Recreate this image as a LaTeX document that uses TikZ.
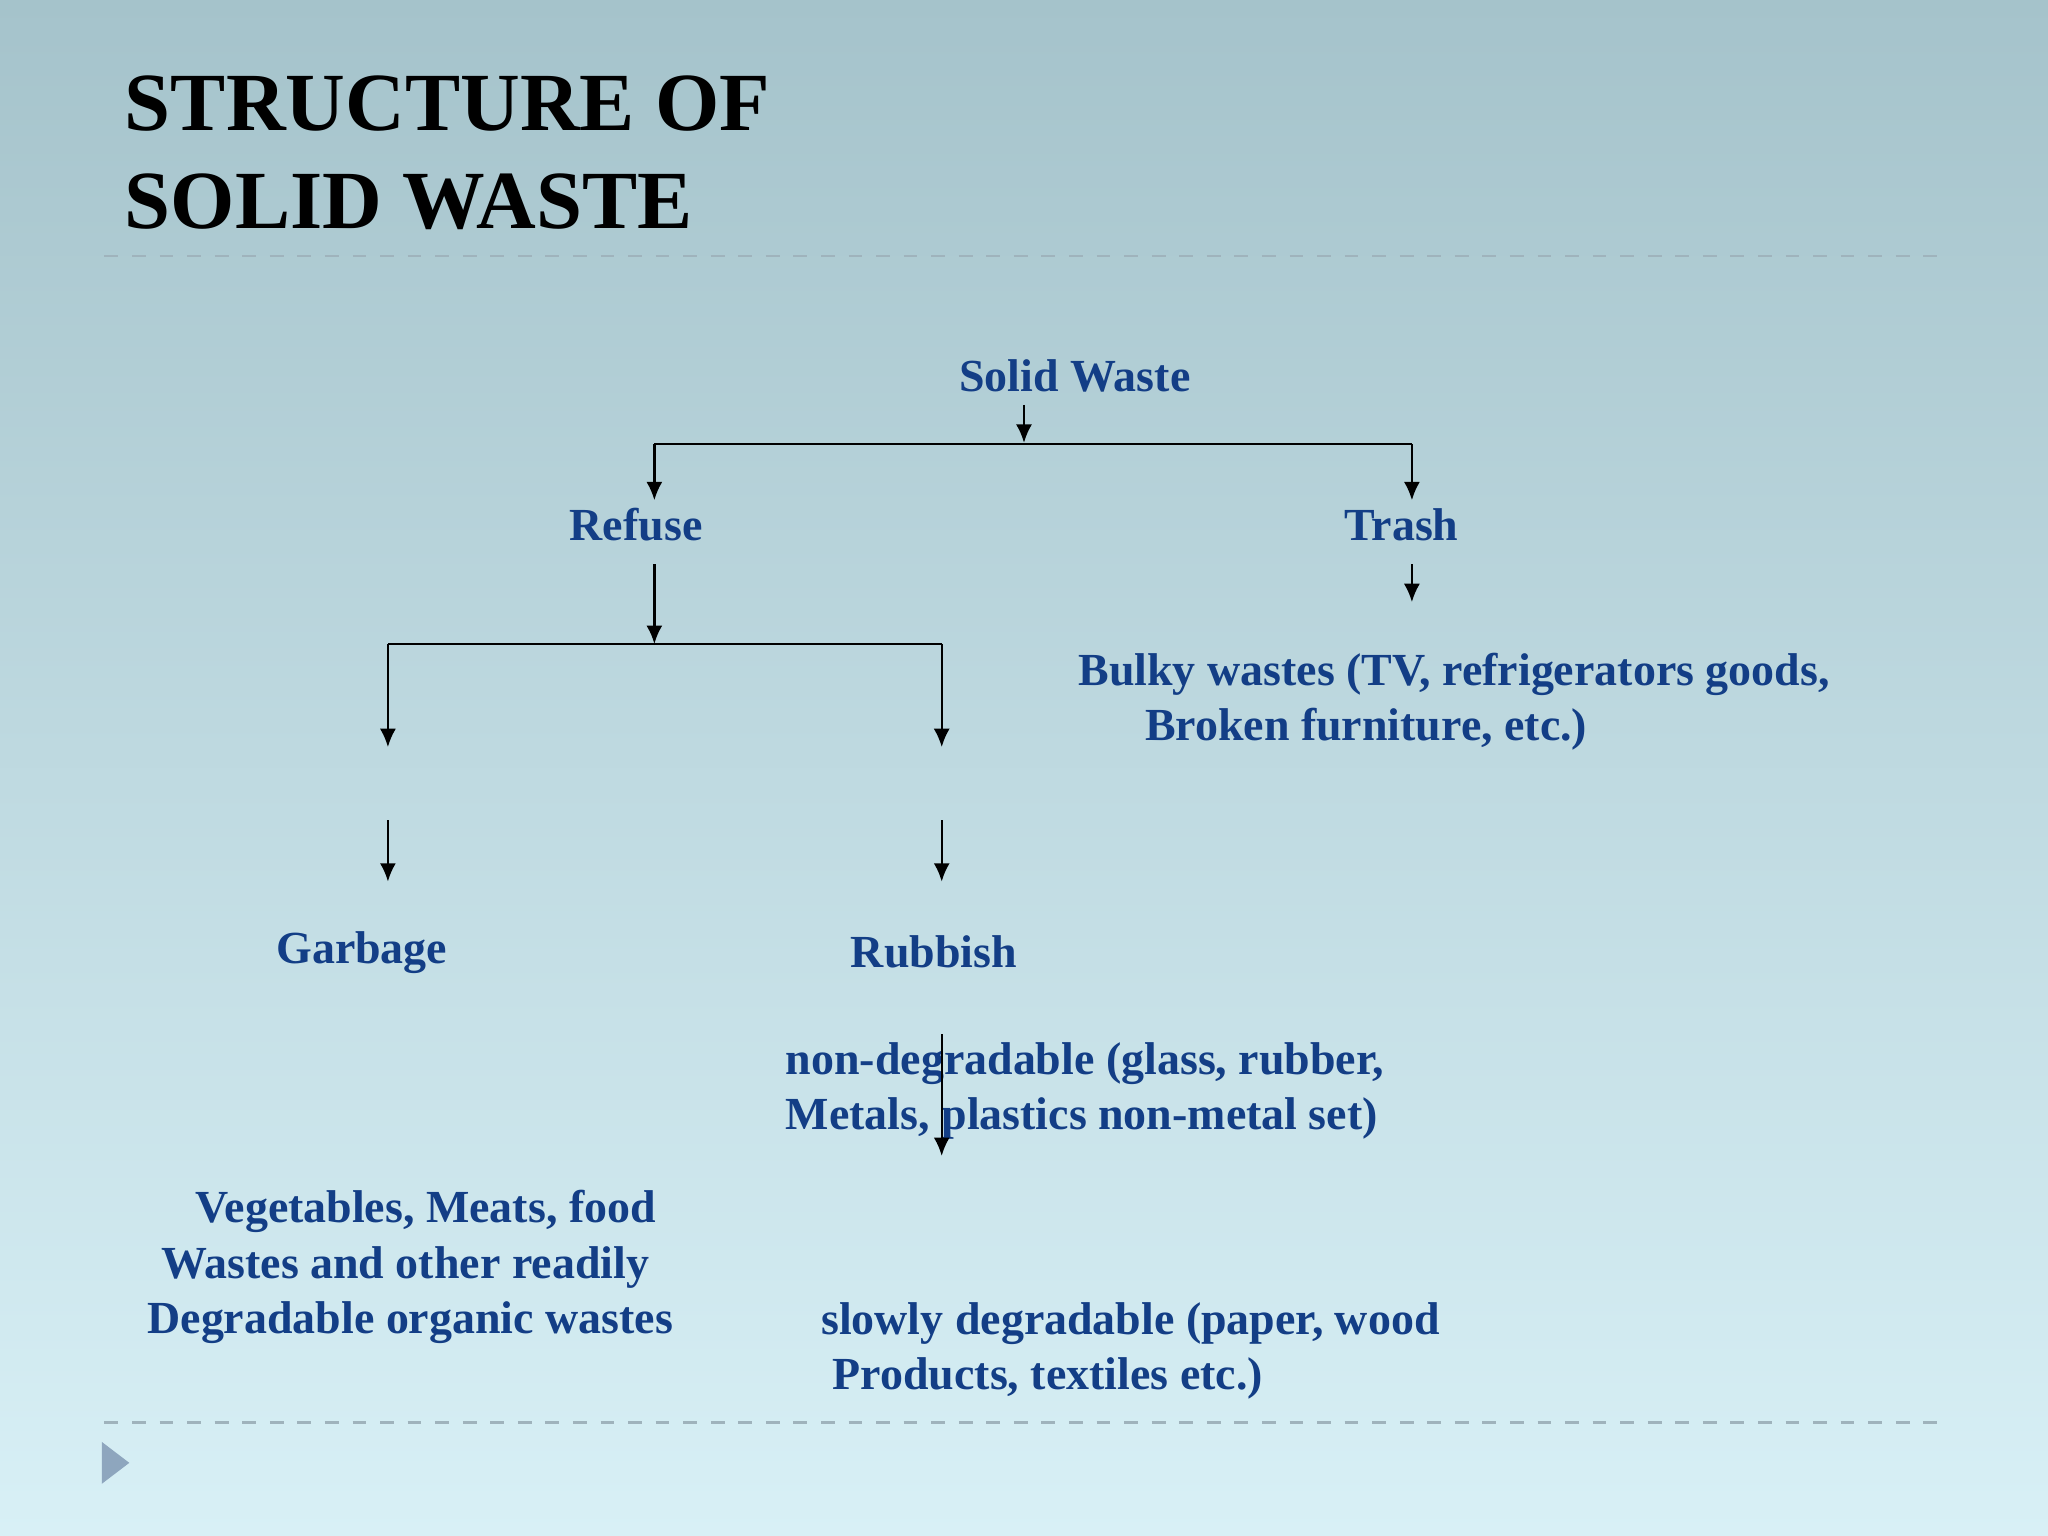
\documentclass[tikz,border=0pt]{standalone}
\usepackage{fontspec}
\setmainfont{Liberation Serif}
\usetikzlibrary{arrows.meta}
\definecolor{bgtop}{HTML}{A5C3CB}
\definecolor{bgbot}{HTML}{D8F0F6}
\definecolor{txtblue}{HTML}{133E86}
\definecolor{rulegray}{HTML}{9FB3BC}
\definecolor{pointer}{HTML}{8EA6BE}
\tikzset{
    lbl/.style = {text=txtblue, font=\fontsize{10}{12}\selectfont\bfseries, inner sep=0pt, align=left},
    arr/.style = {-{Latex[length=4pt,width=3.5pt]}, line width=0.5pt},
    ln/.style  = {line width=0.5pt}
}
\begin{document}
\begin{tikzpicture}[x=0.01cm, y=-0.01cm]
    \useasboundingbox (0,0) rectangle (1568,1176);
    \shade[top color=bgtop, bottom color=bgbot] (0,0) rectangle (1568,1176);
    % title and rules
    \node[anchor=west, font=\fontsize{18}{21.5}\selectfont\bfseries, align=left, inner sep=0pt] (title) at (95,117)
        {STRUCTURE OF\\SOLID WASTE};
    \draw[rulegray, dashed, line width=0.5pt] (80,196) -- (1490,196);
    \draw[rulegray, dashed, line width=0.5pt] (80,1089) -- (1490,1089);
    \fill[pointer] (78,1104) -- (78,1136) -- (99,1120) -- cycle;
    % labels
    \node[lbl] (solid) at (823,288) {Solid Waste};
    \node[lbl] (refuse) at (487,402) {Refuse};
    \node[lbl] (trash) at (1073,402) {Trash};
    \node[lbl, anchor=west] (bulky) at (825,537) {Bulky wastes (TV, refrigerators goods,\\\hspace*{1.45em}Broken furniture, etc.)};
    \node[lbl] (garbage) at (277,729) {Garbage};
    \node[lbl] (rubbish) at (715,729) {Rubbish};
    \node[lbl, anchor=west] (nondeg) at (601,835) {non-degradable (glass, rubber,\\Metals, plastics non-metal set)};
    \node[lbl, anchor=east] (veg) at (516,970) {\hspace*{1.05em}Vegetables, Meats, food\\ \hspace*{0.3em}Wastes and other readily\\Degradable organic wastes};
    \node[lbl, anchor=west] (slow) at (628,1034) {slowly degradable (paper, wood\\\hspace*{0.25em}Products, textiles etc.)};
    % connector points
    \coordinate (sw0) at (784,310);
    \coordinate (sw1) at (784,339);
    \coordinate (bl) at (501,340);
    \coordinate (br) at (1081,340);
    \coordinate (refin) at (501,383);
    \coordinate (trin) at (1081,383);
    \coordinate (tr0) at (1081,432);
    \coordinate (tr1) at (1081,461);
    \coordinate (rf0) at (501,432);
    \coordinate (rf1) at (501,493);
    \coordinate (gl) at (297,493);
    \coordinate (gr) at (721,493);
    \coordinate (ga) at (297,572);
    \coordinate (ra) at (721,572);
    \coordinate (gb0) at (297,628);
    \coordinate (gb1) at (297,675);
    \coordinate (rb0) at (721,628);
    \coordinate (rb1) at (721,675);
    \coordinate (rc0) at (721,792);
    \coordinate (rc1) at (721,885);
    % connectors
    \draw[arr] (sw0) -- (sw1);
    \draw[ln] (bl) -- (br);
    \draw[arr] (bl) -- (refin);
    \draw[arr] (br) -- (trin);
    \draw[arr] (tr0) -- (tr1);
    \draw[arr] (rf0) -- (rf1);
    \draw[ln] (gl) -- (gr);
    \draw[arr] (gl) -- (ga);
    \draw[arr] (gr) -- (ra);
    \draw[arr] (gb0) -- (gb1);
    \draw[arr] (rb0) -- (rb1);
    \draw[arr] (rc0) -- (rc1);
\end{tikzpicture}
\end{document}
